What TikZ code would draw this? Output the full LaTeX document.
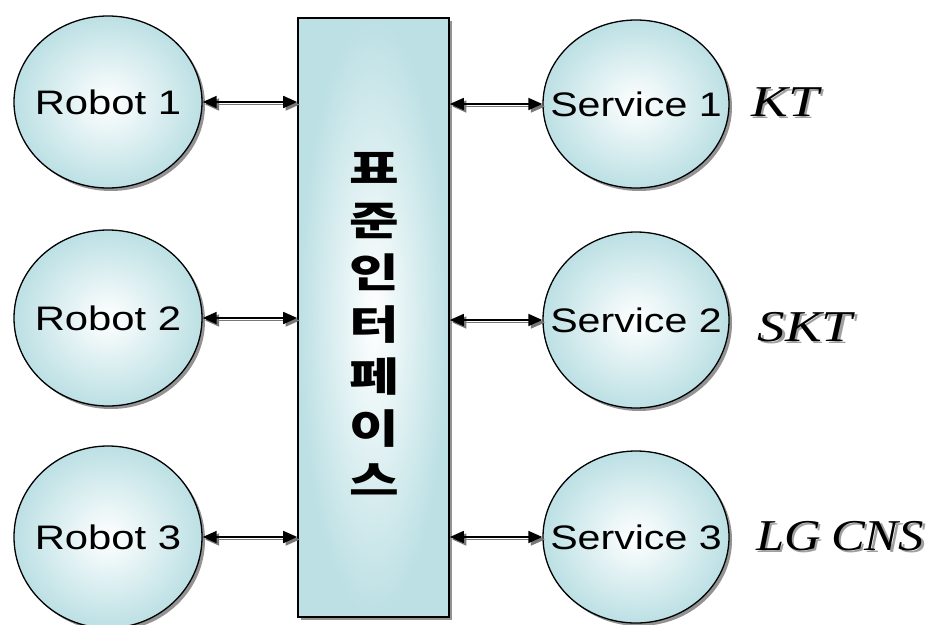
\documentclass[tikz,border=0pt]{standalone}
\usepackage{fontspec}
\setmainfont{Liberation Serif}
\newfontfamily\arialf{Liberation Sans}
\newfontfamily\krf{Noto Sans CJK KR}
\usetikzlibrary{shapes.geometric,arrows.meta,shadows}
\definecolor{cyanc}{RGB}{188,224,228}
\definecolor{shadowc}{RGB}{120,120,120}
\definecolor{tshadow}{RGB}{160,160,160}
\newcommand{\shtext}[1]{\makebox[0pt][l]{\hspace{2.5pt}\raisebox{-2.5pt}{\color{tshadow}#1}}#1}
\newcommand{\ctext}[2]{\raisebox{-0.36em}[0pt][0pt]{\makebox[0pt]{\scalebox{#1}[1]{#2}}}}
\newcommand{\kc}[1]{\scalebox{1.35}[1]{#1}}
\begin{document}
\begin{tikzpicture}[x=1pt,y=-1pt,
  bubble/.style={ellipse, draw=black, line width=1.3pt, inner color=white, outer color=cyanc,
    minimum width=188pt, minimum height=176pt, inner sep=0pt,
    drop shadow={shadow xshift=3pt, shadow yshift=-3pt, fill=shadowc, opacity=0.8},
    font=\arialf\fontsize{34}{40}\selectfont},
  panel/.style={rectangle, draw=black, line width=1.6pt, inner color=white, outer color=cyanc,
    minimum width=151pt, minimum height=599pt, inner sep=0pt,
    drop shadow={shadow xshift=3pt, shadow yshift=-3pt, fill=shadowc, opacity=0.8}},
  company/.style={font=\itshape\fontsize{44}{48}\selectfont},
  link/.style={line width=1.6pt, black, {Triangle[length=14pt,width=12pt]}-{Triangle[length=14pt,width=12pt]}},
  linkshadow/.style={line width=1.6pt, shadowc, {Triangle[length=14pt,width=12pt]}-{Triangle[length=14pt,width=12pt]},
    transform canvas={xshift=2.5pt,yshift=-2.5pt}}
]
\useasboundingbox (0,0) rectangle (931,624);

\node[panel] (box) at (373.5,317.5) {};
\node[font=\krf\bfseries\fontsize{40}{52}\selectfont, align=center, inner sep=0pt] (title) at (374,324)
  {\kc{표}\\\kc{준}\\\kc{인}\\\kc{터}\\\kc{페}\\\kc{이}\\\kc{스}};

\node[bubble, minimum height=172pt] (r1) at (108,102) {\ctext{1.23}{Robot 1}};
\node[bubble] (r2) at (108,318) {\ctext{1.23}{Robot 2}};
\node[bubble, minimum height=182pt] (r3) at (108,537) {\ctext{1.23}{Robot 3}};

\node[bubble, minimum width=186pt, minimum height=168pt] (s1) at (636,104) {\ctext{1.21}{Service 1}};
\node[bubble, minimum width=186pt] (s2) at (636,320) {\ctext{1.21}{Service 2}};
\node[bubble, minimum width=186pt, minimum height=172pt] (s3) at (636,537) {\ctext{1.21}{Service 3}};

\node[company] (kt) at (785,103) {\shtext{\scalebox{1.25}[1]{KT}}};
\node[company] (skt) at (805,328) {\shtext{\scalebox{1.25}[1]{SKT}}};
\node[company] (lg) at (840,537) {\shtext{\scalebox{1.15}[1]{LG\kern9pt CNS}}};

\foreach \n in {r1,r2,r3}{
  \draw[linkshadow] (\n.east) -- (\n.east -| box.west);
  \draw[link] (\n.east) -- (\n.east -| box.west);
}
\foreach \n in {s1,s2,s3}{
  \draw[linkshadow] (\n.west -| box.east) -- (\n.west);
  \draw[link] (\n.west -| box.east) -- (\n.west);
}
\end{tikzpicture}
\end{document}
